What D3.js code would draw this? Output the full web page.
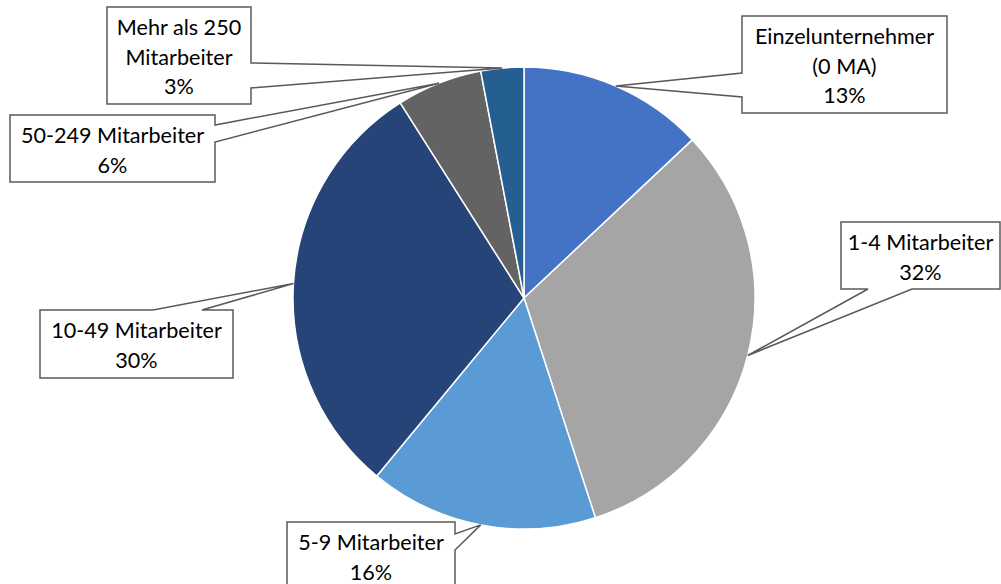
<!DOCTYPE html>
<html>
<head>
<meta charset="utf-8">
<script src="https://cdn.jsdelivr.net/npm/d3@7"></script>
<style>
  html, body { margin: 0; padding: 0; background: #fff; }
  svg { display: block; }
</style>
</head>
<body>
<svg id="chart" width="1001" height="584"></svg>
<script>
// Company size classes and their share of companies (%)
const categories = [
  "Einzelunternehmer (0 MA)",
  "1-4 Mitarbeiter",
  "5-9 Mitarbeiter",
  "10-49 Mitarbeiter",
  "50-249 Mitarbeiter",
  "Mehr als 250 Mitarbeiter"
];
const shares = [13, 32, 16, 30, 6, 3];
const labelLines = [
  ["Einzelunternehmer", "(0 MA)"],
  ["1-4 Mitarbeiter"],
  ["5-9 Mitarbeiter"],
  ["10-49 Mitarbeiter"],
  ["50-249 Mitarbeiter"],
  ["Mehr als 250", "Mitarbeiter"]
];
const sliceColors = ["#4472C4", "#A5A5A5", "#5B9BD5", "#264478", "#636363", "#255E91"];

// Callout boxes: position, and which edge carries the pointer wedge
const callouts = [
  { x: 742, y: 16,  w: 205, h: 97, side: "left",   base: [73, 97] },
  { x: 841, y: 222, w: 159, h: 67, side: "bottom", base: [868, 912] },
  { x: 287, y: 522, w: 168, h: 75, side: "right",  base: [534, 550] },
  { x: 40,  y: 310, w: 193, h: 68, side: "top",    base: [153, 202] },
  { x: 10,  y: 115, w: 205, h: 67, side: "right",  base: [125, 142] },
  { x: 107, y: 7,   w: 144, h: 97, side: "right",  base: [63, 88] }
];

const cx = 524, cy = 298, radius = 231;
const svg = d3.select("#chart");

const data = categories.map((c, i) => ({ name: c, value: shares[i], index: i }));
const pie = d3.pie().value(d => d.value).sort(null);
const arcs = pie(data);
const arc = d3.arc().innerRadius(0).outerRadius(radius);
const edgeArc = d3.arc().innerRadius(radius).outerRadius(radius);

const g = svg.append("g").attr("transform", `translate(${cx},${cy})`);

g.selectAll("path.slice")
  .data(arcs)
  .join("path")
  .attr("class", "slice")
  .attr("d", arc)
  .attr("fill", (d, i) => sliceColors[i])
  .attr("stroke", "#ffffff")
  .attr("stroke-width", 1.5)
  .attr("stroke-linejoin", "round");

// Build a rectangle outline with a triangular pointer to (tx, ty)
function calloutPath(b, tx, ty) {
  const x0 = b.x, y0 = b.y, x1 = b.x + b.w, y1 = b.y + b.h;
  const p = d3.path();
  p.moveTo(x0, y0);
  if (b.side === "top") { p.lineTo(b.base[0], y0); p.lineTo(tx, ty); p.lineTo(b.base[1], y0); }
  p.lineTo(x1, y0);
  if (b.side === "right") { p.lineTo(x1, b.base[0]); p.lineTo(tx, ty); p.lineTo(x1, b.base[1]); }
  p.lineTo(x1, y1);
  if (b.side === "bottom") { p.lineTo(b.base[1], y1); p.lineTo(tx, ty); p.lineTo(b.base[0], y1); }
  p.lineTo(x0, y1);
  if (b.side === "left") { p.lineTo(x0, b.base[1]); p.lineTo(tx, ty); p.lineTo(x0, b.base[0]); }
  p.closePath();
  return p.toString();
}

const labels = svg.append("g").attr("class", "labels");

arcs.forEach((a, i) => {
  const b = callouts[i];
  const [ex, ey] = edgeArc.centroid(a);
  const tx = cx + ex, ty = cy + ey;
  labels.append("path")
    .attr("d", calloutPath(b, tx, ty))
    .attr("fill", "#ffffff")
    .attr("stroke", "#595959")
    .attr("stroke-width", 1.5)
    .attr("stroke-linejoin", "miter");

  const lines = labelLines[i].concat([d3.format("d")(shares[i]) + "%"]);
  const t = labels.append("text")
    .attr("text-anchor", "middle")
    .attr("font-family", "Lato, 'Open Sans', sans-serif")
    .attr("font-size", 21.6)
    .attr("fill", "#000000");
  lines.forEach((ln, k) => {
    t.append("tspan")
      .attr("x", b.x + b.w / 2)
      .attr("y", b.y + 28 + k * 29.5)
      .text(ln);
  });
});
</script>
</body>
</html>
